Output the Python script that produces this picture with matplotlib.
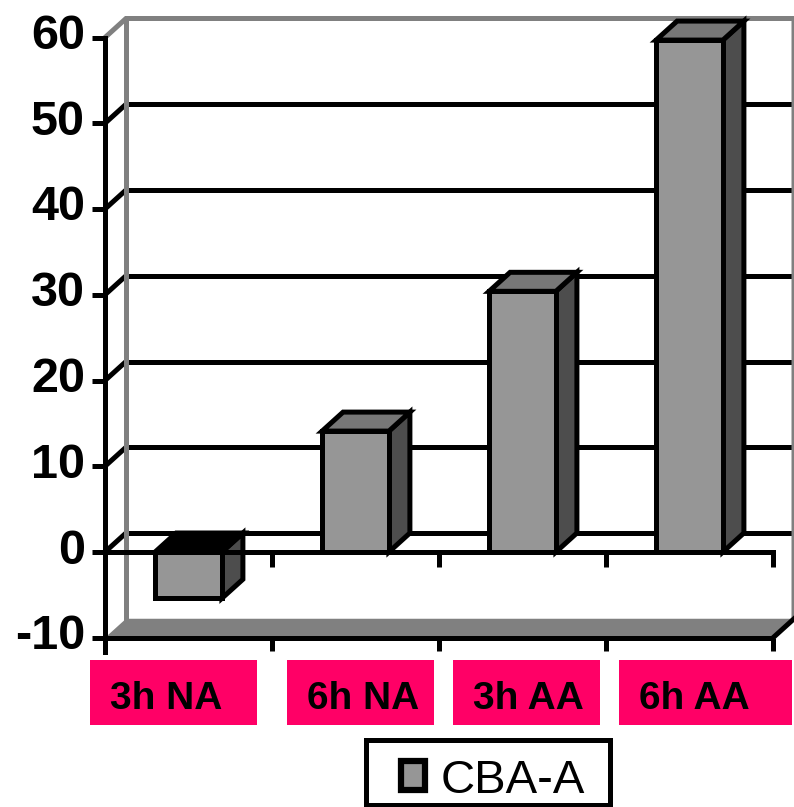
import matplotlib
matplotlib.use("Agg")
import matplotlib.pyplot as plt
from matplotlib.patches import Polygon, Rectangle
from matplotlib.transforms import ScaledTranslation

# ---- data ----
categories = ["3h NA", "6h NA", "3h AA", "6h AA"]
values = [-5.4, 14.1, 30.4, 59.7]
series_name = "CBA-A"
y_ticks = [-10, 0, 10, 20, 30, 40, 50, 60]
y_tick_labels = ["-10", "0", "10", "20", "30", "40", "50", "60"]

# ---- figure / scale layout (pixels) ----
W, H, DPI = 794, 807, 100
X0_PX, CAT_PX = 105, 167        # left wall position, width of one category
Y0_PX, UNIT_PX = 552, 8.575     # zero level, pixels per value unit
DEPTH_X_PX, DEPTH_Y_PX = 21, 19  # oblique depth of the 3-D box
LW = 3.6                          # ~5 px strokes

fig = plt.figure(figsize=(W / DPI, H / DPI), dpi=DPI)
ax = fig.add_axes([0, 0, 1, 1])
ax.set_xlim(-X0_PX / CAT_PX, (W - X0_PX) / CAT_PX)
ax.set_ylim((Y0_PX - H) / UNIT_PX, Y0_PX / UNIT_PX)

DX = DEPTH_X_PX / CAT_PX
DY = DEPTH_Y_PX / UNIT_PX
n = len(categories)
ymin, ymax = y_ticks[0], y_ticks[-1]

WALL = "#808080"
FRONT = "#969696"
TOP = "#777777"
SIDE = "#4d4d4d"
MAGENTA = "#ff0066"


def fpx(x, y):
    """pixel position -> figure fraction"""
    return x / W, 1 - y / H


# floor
ax.add_patch(Polygon([(0, ymin), (n, ymin), (n + DX, ymin + DY), (DX, ymin + DY)],
                     closed=True, facecolor=WALL, edgecolor="none", zorder=1))

# back-wall gridlines and side-wall diagonals
for v in y_ticks[1:-1]:
    ax.plot([DX, n + DX], [v + DY, v + DY], color="black", lw=LW,
            solid_capstyle="butt", zorder=1.2)
    ax.plot([0, DX], [v, v + DY], color="black", lw=LW,
            solid_capstyle="butt", zorder=1.2)

# wall outline
ax.plot([0, DX, n + DX, n + DX], [ymax, ymax + DY, ymax + DY, ymin + DY],
        color=WALL, lw=LW, solid_joinstyle="miter", zorder=1.3)
ax.plot([DX, DX], [ymin + DY, ymax + DY], color=WALL, lw=LW, zorder=1.3)
ax.plot([n, n + DX], [ymin, ymin + DY], color="black", lw=LW, zorder=1.3)

# 3-D columns
BW = 0.4
for i, v in enumerate(values):
    x0 = i + 0.5 - BW / 2
    x1 = x0 + BW
    lo, hi = min(0, v), max(0, v)
    side = Polygon([(x1, lo), (x1, hi), (x1 + DX, hi + DY), (x1 + DX, lo + DY)],
                   closed=True, facecolor=SIDE, edgecolor="black", lw=LW,
                   joinstyle="miter", zorder=2)
    top = Polygon([(x0, hi), (x1, hi), (x1 + DX, hi + DY), (x0 + DX, hi + DY)],
                  closed=True, facecolor=TOP if v >= 0 else "black",
                  edgecolor="black", lw=LW, joinstyle="miter", zorder=2)
    front = Rectangle((x0, lo), BW, hi - lo, facecolor=FRONT, edgecolor="black",
                      lw=LW, joinstyle="miter", zorder=2.1)
    for p in (side, top, front):
        ax.add_patch(p)

# front floor edge at the minimum with its ticks
ax.plot([0, n], [ymin, ymin], color="black", lw=LW, solid_capstyle="butt", zorder=3)
ax.vlines(range(1, n + 1), ymin - 13 / UNIT_PX, ymin, color="black", lw=LW, zorder=3)

# value axis
for s in ("top", "right"):
    ax.spines[s].set_visible(False)
ax.spines["left"].set_position(("data", 0))
ax.spines["left"].set_bounds(ymin - 14 / UNIT_PX, ymax)
ax.spines["left"].set_linewidth(LW)
ax.spines["left"].set_zorder(3)
ax.set_yticks(y_ticks, y_tick_labels, fontsize=35, fontweight="bold",
              family="Liberation Sans")
ax.tick_params(axis="y", direction="out", length=9.4, width=LW, pad=5)
for lbl in ax.get_yticklabels():
    lbl.set_transform(lbl.get_transform() + ScaledTranslation(0, 6 / DPI, fig.dpi_scale_trans))

# category axis crossing at zero
ax.spines["bottom"].set_position(("data", 0))
ax.spines["bottom"].set_bounds(0, n)
ax.spines["bottom"].set_linewidth(LW)
ax.spines["bottom"].set_zorder(3)
ax.set_xticks(range(1, n + 1), [""] * n)
ax.tick_params(axis="x", direction="out", length=10.8, width=LW)

# category label boxes
box_left_px = [-15, 15, 14, 13]
box_width_px = [167, 147, 147, 173]
BOX_TOP, BOX_BOTTOM = 660, 725
for i, name in enumerate(categories):
    left = X0_PX + i * CAT_PX + box_left_px[i]
    bx, by = fpx(left, BOX_BOTTOM)
    fig.patches.append(Rectangle((bx, by), box_width_px[i] / W, (BOX_BOTTOM - BOX_TOP) / H,
                                 transform=fig.transFigure, facecolor=MAGENTA,
                                 edgecolor="none", zorder=4))
    tx, ty = fpx(left + 20, 709)
    fig.text(tx, ty, name, fontsize=28, fontweight="bold", family="Liberation Sans",
             ha="left", va="baseline", zorder=5)

# legend
lx, ly = fpx(365.5, 805)
fig.patches.append(Rectangle((lx, ly), 244 / W, 65 / H, transform=fig.transFigure,
                             facecolor="white", edgecolor="black", lw=LW, zorder=4))
mx, my = fpx(401, 790)
fig.patches.append(Rectangle((mx, my), 24 / W, 29 / H, transform=fig.transFigure,
                             facecolor=FRONT, edgecolor="black", lw=4.5, zorder=5))
tx, ty = fpx(441, 793)
fig.text(tx, ty, series_name, fontsize=34, family="Liberation Sans",
         ha="left", va="baseline", zorder=6)

fig.savefig("out.png", dpi=DPI)
